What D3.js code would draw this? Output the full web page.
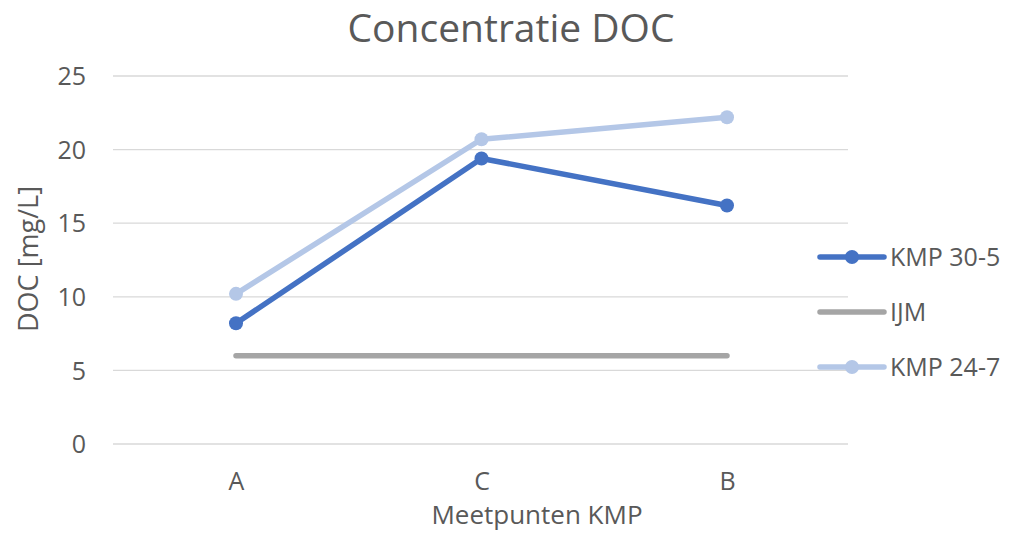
<!DOCTYPE html>
<html><head><meta charset="utf-8">
<script src="https://cdn.jsdelivr.net/npm/d3@7"></script>
<style>body{margin:0;background:#fff;} text{font-family:"Open Sans",sans-serif;fill:#595959;}</style>
</head><body><svg id="c" width="1025" height="534"></svg>
<script>
const categories = ["A","C","B"];
const kmp305 = [8.2, 19.4, 16.2];
const ijm = [6.0, 6.0, 6.0];
const kmp247 = [10.2, 20.7, 22.2];
const yTicks = [0,5,10,15,20,25];
const seriesNames = ["KMP 30-5","IJM","KMP 24-7"];
const colors = ["#4472C4","#A5A5A5","#B4C7E7"];
const markers = [true,false,true];

const series = [kmp305, ijm, kmp247].map((v,i)=>({name:seriesNames[i],values:v,color:colors[i],marker:markers[i]}));

const svg = d3.select("#c");
const x = d3.scalePoint().domain(categories).range([236, 727]);
const y = d3.scaleLinear().domain([0,25]).range([444, 76]);

// gridlines
svg.append("g").selectAll("line").data(yTicks).join("line")
  .attr("x1",113).attr("x2",848).attr("y1",d=>y(d)).attr("y2",d=>y(d))
  .attr("stroke","#D9D9D9").attr("stroke-width",1.3);

// y axis
const ya = svg.append("g").attr("transform","translate(86,0)")
  .call(d3.axisLeft(y).tickValues(yTicks).tickSize(0).tickPadding(0));
ya.select(".domain").remove();
ya.selectAll("text").attr("font-size",25).style("font-family","Open Sans").attr("fill","#595959").attr("dy","0.35em");

// x axis
const xa = svg.append("g").attr("transform","translate(0,0)")
  .call(d3.axisBottom(x).tickSize(0).tickPadding(0));
xa.select(".domain").remove();
xa.selectAll("text").attr("font-size",25).style("font-family","Open Sans").attr("fill","#595959").attr("y",490).attr("dy",0);

// lines
const line = d3.line().x((d,i)=>x(categories[i])).y(d=>y(d));
series.forEach(s=>{
  svg.append("path").datum(s.values).attr("d",line).attr("fill","none")
    .attr("stroke",s.color).attr("stroke-width",5.5).attr("stroke-linecap","round").attr("stroke-linejoin","round");
  if(s.marker){
    svg.append("g").selectAll("circle").data(s.values).join("circle")
      .attr("cx",(d,i)=>x(categories[i])).attr("cy",d=>y(d)).attr("r",7).attr("fill",s.color);
  }
});

// title
svg.append("text").attr("x",511).attr("y",42).attr("text-anchor","middle").attr("font-size",39).text("Concentratie DOC");
// axis titles
svg.append("text").attr("x",537).attr("y",524).attr("text-anchor","middle").attr("font-size",26).text("Meetpunten KMP");
svg.append("text").attr("transform","translate(38,259) rotate(-90)").attr("text-anchor","middle").attr("font-size",27).text("DOC [mg/L]");

// legend
const legY = [257, 312, 367];
series.forEach((s,i)=>{
  const g = svg.append("g");
  g.append("line").attr("x1",820).attr("x2",884).attr("y1",legY[i]).attr("y2",legY[i])
    .attr("stroke",s.color).attr("stroke-width",5.5).attr("stroke-linecap","round");
  if(s.marker) g.append("circle").attr("cx",852).attr("cy",legY[i]).attr("r",7).attr("fill",s.color);
  g.append("text").attr("x",890).attr("y",legY[i]).attr("dy","0.35em").attr("font-size",25).text(s.name);
});
</script></body></html>
